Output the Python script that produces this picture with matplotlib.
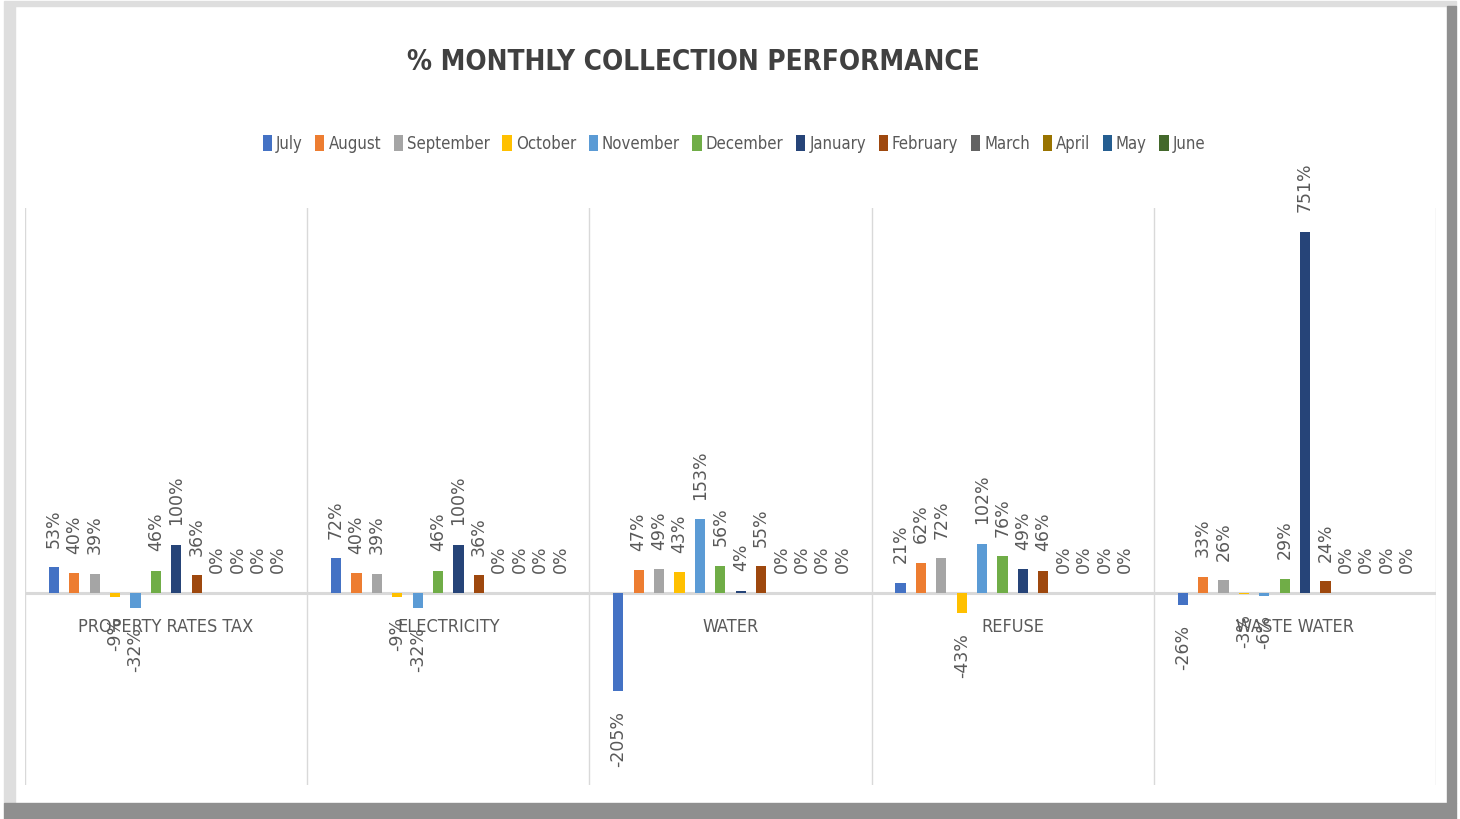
import os
import matplotlib
matplotlib.use('Agg')
import matplotlib.pyplot as plt
from matplotlib import font_manager as fm
from matplotlib.patches import Rectangle, Patch

# chart data (percent)
categories = ['PROPERTY RATES TAX', 'ELECTRICITY', 'WATER', 'REFUSE', 'WASTE WATER']
months = ['July', 'August', 'September', 'October', 'November', 'December',
          'January', 'February', 'March', 'April', 'May', 'June']
july = [53, 72, -205, 21, -26]
august = [40, 40, 47, 62, 33]
september = [39, 39, 49, 72, 26]
october = [-9, -9, 43, -43, -3]
november = [-32, -32, 153, 102, -6]
december = [46, 46, 56, 76, 29]
january = [100, 100, 4, 49, 751]
february = [36, 36, 55, 46, 24]
march = [0, 0, 0, 0, 0]
april = [0, 0, 0, 0, 0]
may = [0, 0, 0, 0, 0]
june = [0, 0, 0, 0, 0]
series = [july, august, september, october, november, december,
          january, february, march, april, may, june]

colors = ['#4472C4', '#ED7D31', '#A5A5A5', '#FFC000', '#5B9BD5', '#70AD47',
          '#264478', '#9E480E', '#636363', '#997300', '#255E91', '#43682B']


def find_font(files):
    for name in files:
        for f in fm.fontManager.ttflist:
            if os.path.basename(f.fname).lower() == name.lower():
                return f.fname
    return None


narrow = find_font(['LiberationSansNarrow-Regular.ttf', 'DejaVuSansCondensed.ttf'])
narrow_bold = find_font(['LiberationSansNarrow-Bold.ttf', 'DejaVuSansCondensed-Bold.ttf'])


def fprop(path, size, weight='normal'):
    if path:
        return fm.FontProperties(fname=path, size=size)
    return fm.FontProperties(family='DejaVu Sans', size=size, weight=weight)


fig = plt.figure(figsize=(14.6, 8.19), dpi=100)
W, H = 1460, 819

# frame / shadow around the chart
fig.patches.append(Rectangle((4 / W, 1 - 6 / H), 1452 / W, 5 / H, transform=fig.transFigure,
                             color='#dedede', zorder=0))
fig.patches.append(Rectangle((4 / W, 1 - 803 / H), 11 / W, 797 / H, transform=fig.transFigure,
                             color='#dedede', zorder=0))
fig.patches.append(Rectangle((4 / W, 0), 1452 / W, 16 / H, transform=fig.transFigure,
                             color='#8f8f8f', zorder=0))
fig.patches.append(Rectangle((1447 / W, 16 / H), 9 / W, 797 / H, transform=fig.transFigure,
                             color='#8f8f8f', zorder=0))

ax = fig.add_axes([25 / W, 34 / H, 1411 / W, 577 / H])
ax.set_xlim(-0.5, len(categories) - 0.5)
ax.set_ylim(-400, 800)
ax.axis('off')

for k in range(len(categories) + 1):
    ax.axvline(k - 0.5, color='#d9d9d9', lw=1, zorder=1)
ax.axhline(0, color='#d9d9d9', lw=2.2, zorder=1)

step = 0.0723
width = 0.036
lab_font = fm.FontProperties(family='DejaVu Sans', size=12.5)
for i, vals in enumerate(series):
    xs = [c + (i - 5.5) * step for c in range(len(categories))]
    ax.bar(xs, vals, width=width, color=colors[i], zorder=2)
    for x, v in zip(xs, vals):
        if v < 0:
            ax.annotate(f'{v}%', (x, v), xytext=(0, -14), textcoords='offset points',
                        rotation=90, ha='center', va='top', color='#595959',
                        fontproperties=lab_font)
        else:
            ax.annotate(f'{v}%', (x, v), xytext=(0, 14), textcoords='offset points',
                        rotation=90, ha='center', va='bottom', color='#595959',
                        fontproperties=lab_font)

for c, name in enumerate(categories):
    ax.text(c, -71, name, ha='center', va='center', color='#595959',
            fontproperties=fprop(narrow, 13), zorder=3)

fig.text(693 / W, 1 - 62 / H, '% MONTHLY COLLECTION PERFORMANCE', ha='center', va='center',
         color='#404040', fontproperties=fprop(narrow_bold, 20, 'bold'))

handles = [Patch(facecolor=col, edgecolor='none') for col in colors]
fig.legend(handles, months, loc='center', bbox_to_anchor=(734 / W, 1 - 144 / H), ncol=12,
           frameon=False, prop=fprop(narrow, 12), labelcolor='#595959',
           handlelength=0.55, handleheight=1.1, handletextpad=0.25, columnspacing=0.75)

fig.savefig('out.png', dpi=100)
